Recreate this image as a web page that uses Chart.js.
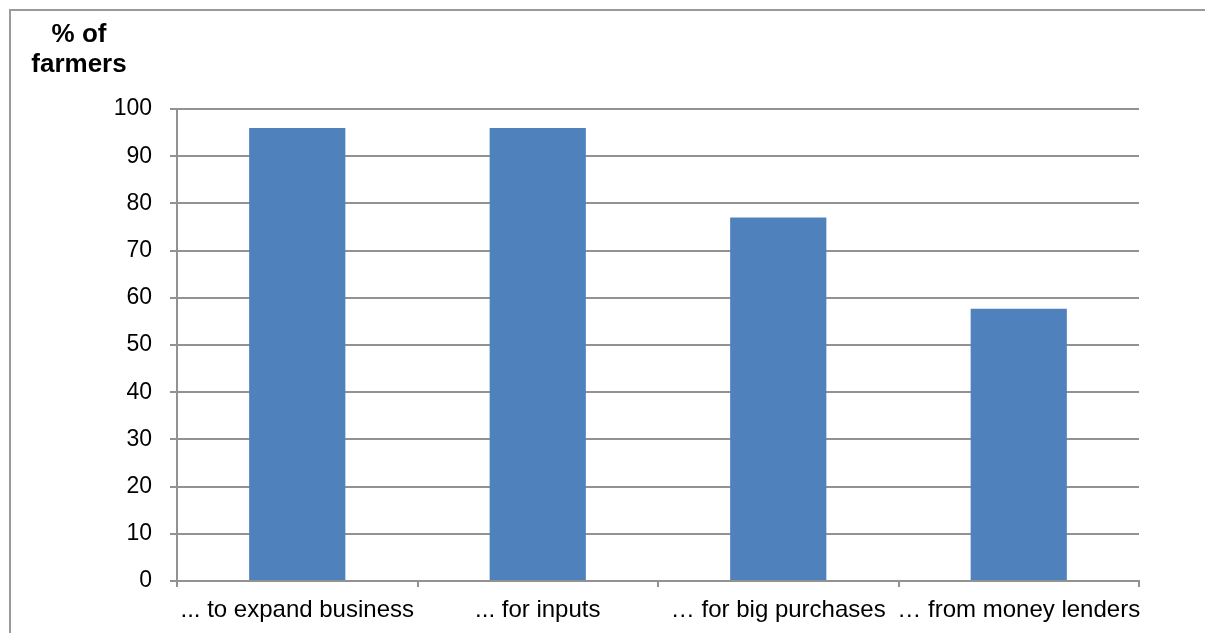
<!DOCTYPE html>
<html>
<head>
<meta charset="utf-8">
<script src="https://cdn.jsdelivr.net/npm/chart.js@4.4.0/dist/chart.umd.min.js"></script>
<style>
  html, body { margin: 0; padding: 0; background: #fff; overflow: hidden; }
  #wrap { position: relative; width: 1205px; height: 633px; }
  #frame { position: absolute; left: 9px; top: 9px; width: 1300px; height: 700px; border: 2px solid #9a9a9a; box-sizing: border-box; }
  #ytitle { position: absolute; left: 0; top: 18px; width: 158px; text-align: center;
            font: bold 26px "Liberation Sans", Arial, sans-serif; line-height: 30px; color: #000; }
  #graph { position: absolute; left: 0; top: 0; }
</style>
</head>
<body>
<div id="wrap">
  <div id="frame"></div>
  <canvas id="graph" width="1205" height="633"></canvas>
  <div id="ytitle">% of<br>farmers</div>
</div>
<script>
let categories = ['... to expand business', '... for inputs', '\u2026 for big purchases', '\u2026 from money lenders'];
let farmers_pct = [96, 96, 77, 57.7];
let y_min = 0;
let y_max = 100;
let y_step = 10;

let axis_grey = '#929292';
let y_font = { family: '"Liberation Sans", Arial, sans-serif', size: 23 };
let x_font = { family: '"Liberation Sans", Arial, sans-serif', size: 24 };

let config1 = {
    type: 'bar',
    data: {
        labels: categories,
        datasets: [{
            data: farmers_pct,
            backgroundColor: '#4f81bd',
            borderWidth: 0,
            categoryPercentage: 1.0,
            barPercentage: 0.4
        }]
    },
    options: {
        responsive: false,
        animation: false,
        layout: { padding: { top: 109, right: 66, left: 0, bottom: 0 } },
        plugins: { legend: { display: false }, tooltip: { enabled: false } },
        scales: {
            x: {
                grid: { display: true, drawOnChartArea: false, offset: true, tickLength: 6, color: axis_grey, lineWidth: 2 },
                border: { display: true, color: axis_grey, width: 2 },
                ticks: { font: x_font, color: '#000', padding: 9, maxRotation: 0, autoSkip: false },
                afterFit: function (s) { s.height = 52; }
            },
            y: {
                min: y_min,
                max: y_max,
                grid: { color: axis_grey, lineWidth: 2, tickLength: 7 },
                border: { display: true, color: axis_grey, width: 2 },
                ticks: { stepSize: y_step, font: y_font, color: '#000', padding: 18 },
                afterFit: function (s) { s.width = 177; }
            }
        }
    }
};

let ctx1 = document.getElementById('graph').getContext('2d');
window.myBar = new Chart(ctx1, config1);
</script>
</body>
</html>
